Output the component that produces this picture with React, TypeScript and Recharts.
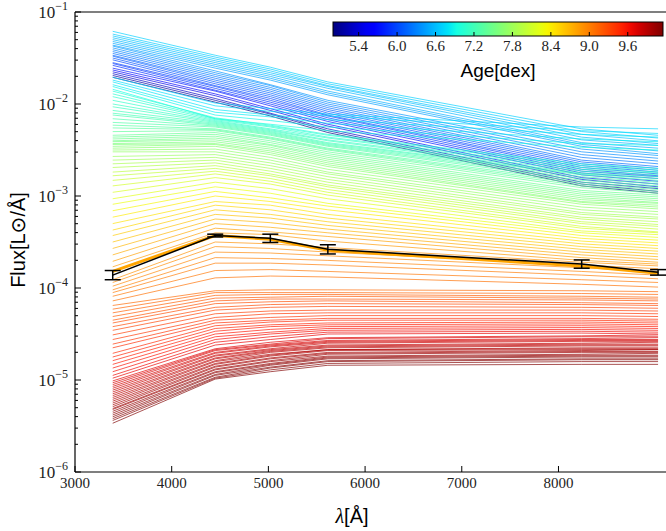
import { LineChart, Line, XAxis, YAxis, ReferenceLine, ErrorBar } from 'recharts';

// wavelengths (Å) of the six photometric points
const bandWaves = [3390, 4450, 5020, 5615, 8240, 9030];

// model ages, log10(yr)
const ages = [
  5.0, 5.15, 5.3, 5.45, 5.6, 5.75,
  5.85, 5.9, 5.95, 6.0, 6.05, 6.1, 6.15, 6.2, 6.25, 6.3, 6.35, 6.4,
  6.44, 6.48, 6.52, 6.56, 6.6, 6.63, 6.66, 6.69,
  6.72, 6.76, 6.8, 6.84, 6.88, 6.93,
  7.0, 7.03, 7.06, 7.09, 7.12, 7.15, 7.18, 7.21, 7.24, 7.27, 7.3, 7.33, 7.36, 7.39, 7.42,
  7.45, 7.48, 7.51, 7.54, 7.57, 7.6, 7.63, 7.66, 7.69, 7.72,
  7.76, 7.81, 7.86, 7.91, 7.96, 8.01, 8.06, 8.11,
  8.16, 8.22, 8.28, 8.34, 8.4, 8.46, 8.52, 8.58,
  8.64, 8.7, 8.76, 8.82, 8.86,
  8.9, 8.93, 8.96, 8.99, 9.02, 9.05, 9.08,
  9.12, 9.15, 9.18, 9.21, 9.24, 9.27, 9.3, 9.33, 9.36, 9.39, 9.42, 9.45,
  9.48, 9.51, 9.54, 9.57, 9.6, 9.63, 9.66, 9.69,
  9.72, 9.74, 9.76, 9.78, 9.8, 9.82, 9.84, 9.86, 9.88, 9.9, 9.92, 9.94, 9.96, 9.98, 10.0, 10.02, 10.04, 10.06, 10.08, 10.1, 10.12, 10.13, 10.14, 10.15,
];

// log10 flux of each model at every band
const f3390 = [
  -1.71, -1.69, -1.67, -1.65, -1.63, -1.61,
  -1.58, -1.56, -1.55, -1.52, -1.5, -1.48, -1.47, -1.45, -1.43, -1.41, -1.39, -1.37,
  -1.36, -1.34, -1.32, -1.3, -1.28, -1.26, -1.24, -1.21,
  -1.71, -1.74, -1.76, -1.79, -1.81, -1.84,
  -1.86, -1.89, -1.92, -1.96, -2.0, -2.03, -2.07, -2.1, -2.12, -2.16, -2.2, -2.23, -2.26, -2.3, -2.34,
  -2.36, -2.38, -2.4, -2.41, -2.43, -2.44, -2.46, -2.48, -2.5, -2.52,
  -2.57, -2.61, -2.65, -2.69, -2.74, -2.78, -2.83, -2.89,
  -2.96, -3.03, -3.09, -3.16, -3.23, -3.3, -3.37, -3.43,
  -3.5, -3.57, -3.64, -3.71, -3.77,
  -3.91, -3.94, -3.98, -4.02, -4.05, -4.09, -4.14,
  -4.19, -4.23, -4.27, -4.31, -4.35, -4.38, -4.42, -4.46, -4.51, -4.56, -4.61, -4.65,
  -4.71, -4.75, -4.79, -4.83, -4.87, -4.91, -4.95, -4.98,
  -5.01, -5.03, -5.05, -5.07, -5.09, -5.11, -5.13, -5.15, -5.17, -5.19, -5.21, -5.23, -5.25, -5.27, -5.29, -5.31, -5.32, -5.34, -5.36, -5.38, -5.4, -5.42, -5.44, -5.47,
];
const f4450 = [
  -1.98, -1.96, -1.94, -1.91, -1.89, -1.86,
  -1.85, -1.83, -1.81, -1.8, -1.78, -1.76, -1.74, -1.72, -1.7, -1.68, -1.66, -1.64,
  -1.61, -1.59, -1.57, -1.55, -1.53, -1.51, -1.49, -1.47,
  -1.99, -2.02, -2.06, -2.09, -2.12, -2.16,
  -2.15, -2.16, -2.17, -2.18, -2.19, -2.2, -2.21, -2.22, -2.23, -2.24, -2.25, -2.27, -2.28, -2.29, -2.31,
  -2.33, -2.35, -2.37, -2.39, -2.41, -2.43, -2.44, -2.46, -2.49, -2.52,
  -2.55, -2.58, -2.61, -2.64, -2.67, -2.7, -2.73, -2.76,
  -2.8, -2.85, -2.9, -2.95, -3.0, -3.06, -3.1, -3.15,
  -3.2, -3.25, -3.3, -3.35, -3.4,
  -3.5, -3.55, -3.61, -3.67, -3.73, -3.81, -3.89,
  -4.03, -4.05, -4.08, -4.11, -4.14, -4.17, -4.21, -4.24, -4.28, -4.32, -4.35, -4.38,
  -4.41, -4.44, -4.47, -4.5, -4.53, -4.56, -4.59, -4.62,
  -4.66, -4.67, -4.68, -4.7, -4.71, -4.73, -4.74, -4.76, -4.77, -4.79, -4.8, -4.82, -4.83, -4.85, -4.86, -4.88, -4.89, -4.91, -4.92, -4.94, -4.95, -4.97, -4.98, -4.99,
];
const f5020 = [
  -2.13, -2.11, -2.1, -2.07, -2.05, -2.02,
  -2.0, -1.98, -1.96, -1.94, -1.92, -1.9, -1.88, -1.86, -1.84, -1.82, -1.8, -1.79,
  -1.74, -1.72, -1.7, -1.68, -1.66, -1.64, -1.62, -1.6,
  -2.05, -2.08, -2.12, -2.14, -2.18, -2.22,
  -2.23, -2.24, -2.25, -2.27, -2.28, -2.29, -2.3, -2.31, -2.32, -2.33, -2.34, -2.36, -2.37, -2.38, -2.4,
  -2.42, -2.44, -2.45, -2.47, -2.49, -2.51, -2.53, -2.55, -2.58, -2.61,
  -2.64, -2.67, -2.7, -2.73, -2.76, -2.78, -2.81, -2.84,
  -2.87, -2.92, -2.97, -3.02, -3.06, -3.1, -3.15, -3.2,
  -3.24, -3.29, -3.34, -3.39, -3.42,
  -3.52, -3.57, -3.62, -3.68, -3.73, -3.8, -3.87,
  -4.02, -4.05, -4.07, -4.1, -4.12, -4.15, -4.18, -4.21, -4.25, -4.28, -4.32, -4.35,
  -4.37, -4.4, -4.42, -4.45, -4.48, -4.5, -4.53, -4.56,
  -4.59, -4.61, -4.62, -4.63, -4.64, -4.66, -4.67, -4.68, -4.69, -4.7, -4.72, -4.73, -4.74, -4.76, -4.77, -4.79, -4.8, -4.82, -4.83, -4.84, -4.86, -4.87, -4.89, -4.91,
];
const f5615 = [
  -2.31, -2.29, -2.27, -2.24, -2.22, -2.19,
  -2.17, -2.15, -2.13, -2.12, -2.1, -2.08, -2.06, -2.04, -2.02, -2.0, -1.98, -1.96,
  -1.9, -1.88, -1.86, -1.83, -1.81, -1.8, -1.78, -1.76,
  -2.11, -2.13, -2.17, -2.21, -2.25, -2.29,
  -2.33, -2.34, -2.36, -2.37, -2.39, -2.4, -2.42, -2.43, -2.44, -2.45, -2.46, -2.48, -2.49, -2.5, -2.52,
  -2.54, -2.56, -2.58, -2.6, -2.62, -2.64, -2.66, -2.68, -2.71, -2.74,
  -2.76, -2.79, -2.82, -2.85, -2.88, -2.9, -2.93, -2.96,
  -2.99, -3.03, -3.08, -3.11, -3.15, -3.2, -3.24, -3.28,
  -3.32, -3.36, -3.4, -3.44, -3.49,
  -3.56, -3.61, -3.65, -3.7, -3.75, -3.82, -3.88,
  -4.02, -4.05, -4.07, -4.09, -4.12, -4.14, -4.17, -4.2, -4.24, -4.27, -4.3, -4.33,
  -4.35, -4.38, -4.4, -4.42, -4.44, -4.46, -4.48, -4.5,
  -4.54, -4.55, -4.57, -4.58, -4.59, -4.6, -4.62, -4.63, -4.64, -4.65, -4.67, -4.67, -4.68, -4.7, -4.71, -4.72, -4.74, -4.75, -4.76, -4.77, -4.79, -4.8, -4.82, -4.84,
];
const f8240 = [
  -2.89, -2.87, -2.85, -2.82, -2.8, -2.77,
  -2.75, -2.73, -2.71, -2.69, -2.67, -2.65, -2.63, -2.61, -2.58, -2.55, -2.52, -2.49,
  -2.46, -2.44, -2.42, -2.39, -2.36, -2.33, -2.3, -2.27,
  -2.25, -2.29, -2.33, -2.38, -2.43, -2.47,
  -2.65, -2.67, -2.69, -2.71, -2.73, -2.75, -2.76, -2.77, -2.79, -2.81, -2.83, -2.85, -2.87, -2.89, -2.91,
  -2.94, -2.96, -2.98, -3.0, -3.02, -3.04, -3.06, -3.07, -3.09, -3.12,
  -3.15, -3.18, -3.2, -3.23, -3.25, -3.28, -3.3, -3.33,
  -3.35, -3.38, -3.4, -3.43, -3.46, -3.49, -3.52, -3.55,
  -3.58, -3.61, -3.64, -3.67, -3.7,
  -3.72, -3.75, -3.78, -3.82, -3.86, -3.91, -3.96,
  -4.03, -4.06, -4.09, -4.11, -4.13, -4.16, -4.18, -4.21, -4.24, -4.27, -4.3, -4.33,
  -4.35, -4.37, -4.39, -4.41, -4.43, -4.45, -4.47, -4.49,
  -4.52, -4.53, -4.55, -4.56, -4.57, -4.58, -4.6, -4.61, -4.62, -4.63, -4.65, -4.66, -4.67, -4.68, -4.69, -4.7, -4.72, -4.73, -4.74, -4.75, -4.77, -4.78, -4.8, -4.83,
];
const f9030 = [
  -2.97, -2.95, -2.92, -2.9, -2.87, -2.84,
  -2.81, -2.79, -2.78, -2.76, -2.74, -2.72, -2.7, -2.68, -2.65, -2.62, -2.59, -2.56,
  -2.54, -2.51, -2.48, -2.45, -2.43, -2.4, -2.37, -2.34,
  -2.27, -2.32, -2.36, -2.41, -2.45, -2.5,
  -2.7, -2.72, -2.74, -2.75, -2.77, -2.79, -2.81, -2.83, -2.85, -2.87, -2.89, -2.91, -2.93, -2.95, -2.97,
  -2.99, -3.01, -3.03, -3.05, -3.07, -3.08, -3.1, -3.12, -3.14, -3.17,
  -3.2, -3.23, -3.25, -3.28, -3.31, -3.33, -3.36, -3.39,
  -3.4, -3.42, -3.45, -3.48, -3.51, -3.54, -3.57, -3.6,
  -3.63, -3.66, -3.69, -3.72, -3.74,
  -3.76, -3.79, -3.82, -3.86, -3.9, -3.94, -3.99,
  -4.04, -4.07, -4.1, -4.12, -4.14, -4.17, -4.19, -4.22, -4.25, -4.28, -4.31, -4.34,
  -4.36, -4.38, -4.4, -4.42, -4.44, -4.46, -4.48, -4.5,
  -4.51, -4.53, -4.54, -4.56, -4.57, -4.58, -4.59, -4.61, -4.62, -4.63, -4.65, -4.66, -4.67, -4.67, -4.69, -4.7, -4.71, -4.73, -4.74, -4.75, -4.77, -4.78, -4.8, -4.83,
];

// observed photometry (log10 flux) with errors in dex, and best-fit model
const obsFlux = [-3.86, -3.43, -3.46, -3.58, -3.74, -3.83];
const obsErr = [0.05, 0.015, 0.045, 0.05, 0.045, 0.03];
const bestFlux = [-3.82, -3.43, -3.47, -3.59, -3.76, -3.84];

const xTicks = [3000, 4000, 5000, 6000, 7000, 8000];
const yMajor = [-6, -5, -4, -3, -2, -1];
const cbarTicks = [5.4, 6.0, 6.6, 7.2, 7.8, 8.4, 9.0, 9.6];
const ageMin = 5.0;
const ageMax = 10.15;

const yTicks: number[] = [...yMajor];
for (let n = -6; n < -1; n++) {
  for (let k = 2; k <= 9; k++) yTicks.push(n + Math.log10(k));
}

const bandFlux = [f3390, f4450, f5020, f5615, f8240, f9030];
const rows = bandWaves.map((w, i) => {
  const r: Record<string, number> = { wave: w, obs: obsFlux[i], obsErr: obsErr[i], best: bestFlux[i] };
  ages.forEach((_, k) => {
    r['m' + k] = bandFlux[i][k];
  });
  return r;
});

// matplotlib jet
const jetR = [[0, 0], [0.35, 0], [0.66, 1], [0.89, 1], [1, 0.5]];
const jetG = [[0, 0], [0.125, 0], [0.375, 1], [0.64, 1], [0.91, 0], [1, 0]];
const jetB = [[0, 0.5], [0.11, 1], [0.34, 1], [0.65, 0], [1, 0]];
function seg(pts: number[][], t: number) {
  for (let i = 1; i < pts.length; i++) {
    if (t <= pts[i][0]) {
      const [x0, y0] = pts[i - 1];
      const [x1, y1] = pts[i];
      return y0 + ((t - x0) / (x1 - x0)) * (y1 - y0);
    }
  }
  return pts[pts.length - 1][1];
}
function jet(t: number) {
  const c = Math.max(0, Math.min(1, t));
  const r = Math.round(seg(jetR, c) * 255);
  const g = Math.round(seg(jetG, c) * 255);
  const b = Math.round(seg(jetB, c) * 255);
  return `rgb(${r},${g},${b})`;
}
const ageColor = (a: number) => jet((a - ageMin) / (ageMax - ageMin));

const serif = '"Liberation Serif", "DejaVu Serif", serif';
const sans = '"Liberation Sans", "DejaVu Sans", sans-serif';

const YTick = (props: any) => {
  const { x, y, payload } = props;
  const v = payload.value;
  const major = Math.abs(v - Math.round(v)) < 1e-6;
  return (
    <g>
      <line x1={x} x2={x + (major ? 6 : 3)} y1={y} y2={y} stroke="#000" strokeWidth={1} />
      {major && (
        <text x={x - 7} y={y + 6} textAnchor="end" fontFamily={serif} fontSize={17} fill="#222">
          10
          <tspan dy={-8} fontSize={12}>{'\u2212' + Math.abs(v)}</tspan>
        </text>
      )}
    </g>
  );
};

const XTick = (props: any) => {
  const { x, y, payload } = props;
  return (
    <g>
      <line x1={x} x2={x} y1={y} y2={y - 6} stroke="#000" strokeWidth={1} />
      <text x={x} y={y + 16} textAnchor="middle" fontFamily={serif} fontSize={15} fill="#222">
        {payload.value}
      </text>
    </g>
  );
};

function Overlay() {
  const x0 = 333;
  const x1 = 663;
  const y0 = 22;
  const y1 = 36;
  const pos = (a: number) => x0 + ((a - ageMin) / (ageMax - ageMin)) * (x1 - x0);
  const stops = Array.from({ length: 41 }, (_, i) => i / 40);
  return (
    <svg width={666} height={531} style={{ position: 'absolute', left: 0, top: 0, pointerEvents: 'none' }}>
      <defs>
        <linearGradient id="jetGrad" x1="0" y1="0" x2="1" y2="0">
          {stops.map((s) => (
            <stop key={s} offset={s} stopColor={jet(s)} />
          ))}
        </linearGradient>
      </defs>
      <rect x={x0} y={y0} width={x1 - x0} height={y1 - y0} fill="url(#jetGrad)" stroke="#000" strokeWidth={1} />
      {cbarTicks.map((t) => (
        <g key={t}>
          <line x1={pos(t)} x2={pos(t)} y1={y1} y2={y1 - 4} stroke="#000" />
          <text x={pos(t)} y={y1 + 15} textAnchor="middle" fontFamily={serif} fontSize={15} fill="#222">
            {t.toFixed(1)}
          </text>
        </g>
      ))}
      <text x={498} y={77} textAnchor="middle" fontFamily={sans} fontSize={19} fill="#000">
        Age[dex]
      </text>
      <text x={352} y={523} textAnchor="middle" fontSize={20} fill="#000">
        <tspan fontFamily={serif} fontStyle="italic">λ</tspan>
        <tspan fontFamily={sans}>[Å]</tspan>
      </text>
      <text x={25} y={240} textAnchor="middle" fontFamily={sans} fontSize={20} fill="#000" transform="rotate(-90 25 240)">
        Flux[L⊙/Å]
      </text>
    </svg>
  );
}

export default function App() {
  return (
    <div style={{ position: 'absolute', left: 0, top: 0, width: 666, height: 531, background: '#fff' }}>
      <LineChart width={666} height={531} data={rows} margin={{ top: 12, right: 0, bottom: 0, left: 0 }}>
        <XAxis
          dataKey="wave"
          type="number"
          domain={[3000, 9112]}
          ticks={xTicks}
          interval={0}
          height={59}
          tickSize={0}
          tickMargin={0}
          tick={<XTick />}
          axisLine={{ stroke: '#000', strokeWidth: 1.2 }}
          allowDataOverflow
        />
        <YAxis
          type="number"
          domain={[-6, -1]}
          ticks={yTicks}
          interval={0}
          width={75}
          tickSize={0}
          tickMargin={0}
          tick={<YTick />}
          axisLine={{ stroke: '#000', strokeWidth: 1.2 }}
          allowDataOverflow
        />
        <ReferenceLine y={-1} stroke="#000" strokeWidth={1.2} />
        {ages.map((a, k) => (
          <Line
            key={k}
            type="linear"
            dataKey={'m' + k}
            stroke={ageColor(a)}
            strokeWidth={0.8}
            strokeOpacity={0.85}
            dot={false}
            activeDot={false}
            isAnimationActive={false}
          />
        ))}
        <Line type="linear" dataKey="best" stroke="#ffa500" strokeWidth={3} dot={false} activeDot={false} isAnimationActive={false} />
        <Line type="linear" dataKey="obs" stroke="#000" strokeWidth={1.5} dot={false} activeDot={false} isAnimationActive={false}>
          <ErrorBar dataKey="obsErr" width={8} strokeWidth={1.5} stroke="#000" direction="y" />
        </Line>
      </LineChart>
      <Overlay />
    </div>
  );
}
